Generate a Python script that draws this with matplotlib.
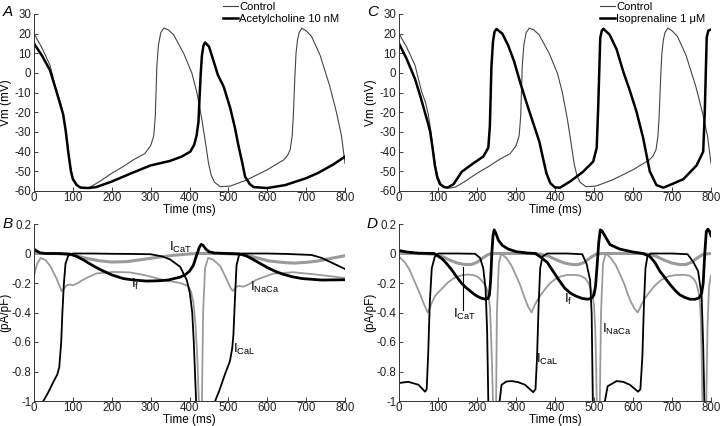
import matplotlib
matplotlib.use("Agg")
import matplotlib.pyplot as plt

plt.rcParams['font.family'] = ['Liberation Sans', 'DejaVu Sans']
plt.rcParams['axes.unicode_minus'] = False
plt.rcParams['mathtext.fontset'] = 'custom'
plt.rcParams['mathtext.rm'] = 'Liberation Sans'
plt.rcParams['mathtext.default'] = 'regular'

# ---- action potentials (mV) ----
ctl_t = [0, 20, 41, 58, 68, 75, 82, 88, 94, 100, 108, 118, 130, 145, 170, 200, 230, 257, 285, 300, 308,
         312, 316, 320, 326, 334, 345, 359, 385, 406, 419, 432, 440, 449, 456, 464, 479, 505, 547, 599,
         642, 652, 659, 664, 667, 671, 674, 678, 682, 689, 700, 714, 736, 761, 778, 791, 800]
ctl_v = [20, 13, 4, -9.5, -15, -21, -30, -40, -48, -53, -56.5, -58, -58.5, -58, -55, -51, -47.5, -44, -41,
         -37, -32, -22, 3.4, 14, 20.5, 22.8, 22, 19.5, 10, 0, -10, -23.8, -34, -46, -52, -55.5, -57.8,
         -57.5, -54.4, -49.3, -44.2, -42, -39, -32, -22, -2, 10, 17, 20.5, 22.8, 21.5, 18.6, 9, -6.8,
         -20, -32, -46]

ach_t = [0, 20, 41, 58, 75, 82, 88, 95, 100, 110, 120, 140, 160, 200, 250, 300, 350, 380, 402, 412, 418,
         423, 426, 429, 432, 436, 440, 450, 462, 473, 488, 505, 517, 526, 535, 543, 555, 565, 600, 646,
         700, 731, 770, 800]
ach_v = [15, 9, 1.5, -9.5, -21, -30, -40, -50, -54, -57, -58.3, -58.5, -58, -55.2, -51, -47, -44.7,
         -42.5, -40, -36.5, -32, -25, -12, 0, 9, 14, 15.5, 13.5, 6, -1, -7, -18, -28, -37, -45, -52.7,
         -56.5, -58, -58.5, -57, -53.5, -50.8, -46.5, -42.5]

iso_t = [0, 20, 41, 55, 65, 75, 80, 86, 92, 98, 105, 115, 125, 140, 161, 190, 216, 229, 233, 237, 241,
         245, 250, 265, 280, 295, 311, 330, 345, 360, 370, 378, 388, 400, 413, 440, 472, 498, 507, 511,
         516, 520, 524, 540, 558, 575, 592, 609, 626, 643, 660, 678, 700, 729, 763, 780, 784, 789, 793,
         798, 800]
iso_v = [15, 7, -3, -12, -19, -26, -30, -38, -47, -53, -56.5, -58, -58.3, -56.5, -50.2, -46, -42.5,
         -38, -27, 3.3, 16, 21, 22.4, 20, 14, 6, -5, -17, -26, -35, -44, -51, -56, -58.2, -58.3, -55,
         -50.2, -45, -38, -16, 17.8, 21.5, 22.5, 19.5, 12, 0.7, -9, -19.7, -33, -50, -57, -58.3, -56.5,
         -54, -47, -40, -20, 18, 21.5, 22, 22]

# ---- currents, acetylcholine (pA/pF) ----
if_b_t = [0, 8, 15, 30, 60, 95, 110, 128, 150, 171, 200, 230, 257, 290, 320, 345, 376, 388, 400, 410,
          416, 420, 425, 430, 435, 442, 450, 465, 500, 530, 545, 560, 580, 600, 620, 640, 665, 690,
          740, 800]
if_b_v = [0.03, 0.015, 0.005, 0, 0, -0.005, -0.02, -0.045, -0.08, -0.11, -0.145, -0.17, -0.18, -0.187,
          -0.185, -0.18, -0.16, -0.146, -0.12, -0.08, -0.03, 0.0, 0.04, 0.062, 0.055, 0.03, 0.012,
          0.003, 0.0, -0.003, -0.015, -0.035, -0.065, -0.095, -0.12, -0.14, -0.158, -0.17, -0.18,
          -0.178]

ical_b_t = [0, 20, 24, 35, 50, 60, 65, 70, 73, 77, 81, 88, 100, 150, 200, 250, 300, 330, 350, 376, 393,
            401, 407, 411, 414, 417, 420, 462, 466, 478, 491, 504, 510, 513, 517, 521, 527, 535, 600,
            650, 714, 740, 760, 780, 800]
ical_b_v = [-1.3, -1.1, -1.0, -0.95, -0.87, -0.82, -0.77, -0.6, -0.4, -0.2, -0.07, -0.015, 0, 0,
            -0.002, -0.003, -0.005, -0.02, -0.04, -0.09, -0.18, -0.27, -0.4, -0.6, -0.8, -1.0, -1.3,
            -1.3, -1.0, -0.92, -0.82, -0.73, -0.64, -0.55, -0.3, -0.08, -0.015, 0, 0, -0.003, -0.01,
            -0.03, -0.055, -0.08, -0.105]

inaca_b_t = [0, 8, 17, 30, 43, 58, 71, 78, 84, 92, 100, 110, 125, 140, 161, 204, 247, 290, 333, 376,
             397, 404, 410, 415, 420, 424, 426, 430, 432, 435, 440, 448, 460, 479, 496, 507, 512, 520,
             528, 538, 548, 573, 616, 667, 727, 800]
inaca_b_v = [-0.15, -0.07, -0.03, -0.045, -0.09, -0.17, -0.255, -0.235, -0.215, -0.21, -0.215, -0.205,
             -0.18, -0.16, -0.135, -0.125, -0.128, -0.15, -0.18, -0.2, -0.22, -0.26, -0.33, -0.47,
             -0.7, -1.0, -1.3, -1.3, -1.0, -0.4, -0.1, -0.03, -0.04, -0.085, -0.177, -0.24, -0.254,
             -0.225, -0.22, -0.225, -0.215, -0.177, -0.136, -0.127, -0.143, -0.166]

icat_b_t = [0, 50, 80, 100, 130, 170, 200, 240, 280, 320, 360, 400, 420, 440, 480, 530, 560, 603, 650,
            672, 700, 732, 770, 800]
icat_b_v = [0, 0, -0.002, -0.01, -0.03, -0.05, -0.058, -0.055, -0.04, -0.025, -0.012, -0.003, 0, 0, 0,
            -0.005, -0.02, -0.05, -0.063, -0.065, -0.06, -0.05, -0.03, -0.015]

# ---- currents, isoprenaline (pA/pF) ----
if_d_t = [0, 20, 50, 90, 96, 110, 121, 135, 147, 160, 173, 186, 198, 210, 222, 228, 232, 235, 238, 241,
          244, 248, 255, 265, 280, 301, 330, 350, 361, 380, 395, 410, 425, 440, 455, 470, 485, 495, 500,
          504, 508, 512, 516, 520, 528, 541, 566, 600, 626, 643, 656, 669, 682, 695, 708, 720, 733, 746,
          760, 770, 776, 780, 784, 788, 792, 796, 800]
if_d_v = [0.02, 0.01, 0.002, 0, -0.01, -0.035, -0.065, -0.11, -0.155, -0.2, -0.234, -0.262, -0.286,
          -0.302, -0.31, -0.305, -0.28, -0.18, 0.0, 0.12, 0.16, 0.14, 0.09, 0.055, 0.03, 0.012, 0.003,
          0.0, -0.02, -0.06, -0.12, -0.18, -0.235, -0.27, -0.29, -0.305, -0.31, -0.3, -0.28, -0.22,
          -0.08, 0.07, 0.16, 0.155, 0.12, 0.06, 0.03, 0.01, 0.0, -0.02, -0.06, -0.12, -0.165, -0.21,
          -0.25, -0.28, -0.298, -0.31, -0.31, -0.3, -0.27, -0.2, 0.0, 0.15, 0.165, 0.15, 0.12]

ical_d_t = [0, 24, 50, 67, 71, 75, 79, 84, 92, 101, 150, 195, 208, 216, 222, 226, 229, 232, 255, 258,
            263, 275, 289, 305, 323, 344, 350, 354, 358, 362, 368, 380, 430, 470, 481, 490, 494, 497,
            500, 525, 528, 535, 558, 575, 592, 613, 619, 624, 628, 632, 637, 645, 700, 740, 754, 767,
            776, 780, 783, 786, 800]
ical_d_v = [-0.878, -0.87, -0.89, -0.937, -0.92, -0.67, -0.33, -0.1, -0.02, 0, 0, -0.002, -0.03, -0.1,
            -0.24, -0.53, -1.0, -1.3, -1.3, -1.0, -0.89, -0.868, -0.865, -0.872, -0.89, -0.94, -0.92,
            -0.7, -0.35, -0.1, -0.02, 0, 0, -0.005, -0.07, -0.18, -0.41, -1.0, -1.3, -1.3, -1.0, -0.9,
            -0.865, -0.87, -0.89, -0.937, -0.92, -0.7, -0.35, -0.1, -0.02, 0, 0, -0.005, -0.055, -0.12,
            -0.29, -0.63, -1.0, -1.3, -1.3]

inaca_d_t = [0, 15, 27, 40, 53, 62, 70, 74, 79, 83, 92, 102, 113, 126, 139, 152, 164, 177, 190, 200,
             207, 214, 220, 225, 228, 231, 233, 235, 237, 239, 241, 243, 247, 249, 251, 256, 262, 275,
             288, 301, 310, 318, 325, 331, 340, 344, 348, 355, 361, 375, 388, 400, 415, 430, 450, 465,
             478, 486, 492, 496, 500, 503, 505, 507, 509, 513, 515, 518, 523, 530, 543, 556, 569, 578,
             586, 595, 603, 612, 617, 621, 629, 640, 655, 672, 690, 710, 730, 745, 755, 762, 767, 771,
             774, 776, 778, 780, 785, 788, 791, 795, 800]
inaca_d_v = [-0.02, -0.06, -0.11, -0.19, -0.27, -0.33, -0.38, -0.40, -0.37, -0.34, -0.29, -0.26, -0.23,
             -0.195, -0.17, -0.155, -0.146, -0.143, -0.146, -0.155, -0.17, -0.19, -0.21, -0.24, -0.27,
             -0.32, -0.36, -0.48, -0.63, -0.8, -1.0, -1.3, -1.3, -1.0, -0.4, -0.065, 0.0, -0.03, -0.08,
             -0.155, -0.21, -0.27, -0.32, -0.36, -0.40, -0.375, -0.35, -0.315, -0.29, -0.24, -0.2,
             -0.175, -0.155, -0.146, -0.145, -0.15, -0.17, -0.2, -0.24, -0.28, -0.35, -0.5, -0.7, -1.0,
             -1.3, -1.3, -1.0, -0.4, -0.07, 0.0, -0.03, -0.08, -0.155, -0.21, -0.27, -0.33, -0.37,
             -0.40, -0.375, -0.35, -0.31, -0.27, -0.22, -0.18, -0.155, -0.146, -0.145, -0.15, -0.17,
             -0.2, -0.25, -0.31, -0.45, -0.7, -1.0, -1.3, -1.3, -1.0, -0.5, -0.22, -0.15]

icat_d_t = [0, 60, 90, 110, 130, 150, 170, 185, 200, 215, 230, 245, 340, 365, 385, 405, 425, 445, 460,
            475, 490, 505, 520, 620, 640, 660, 680, 700, 720, 735, 750, 765, 780, 800]
icat_d_v = [0, 0, -0.005, -0.02, -0.045, -0.065, -0.075, -0.075, -0.06, -0.03, -0.005, 0, 0, -0.005,
            -0.02, -0.045, -0.065, -0.075, -0.075, -0.06, -0.03, -0.005, 0, 0, -0.005, -0.02, -0.045,
            -0.065, -0.075, -0.075, -0.06, -0.03, -0.005, 0]

time_ticks = [0, 100, 200, 300, 400, 500, 600, 700, 800]
vm_ticks = [30, 20, 10, 0, -10, -20, -30, -40, -50, -60]
cur_ticks = [0.2, 0, -0.2, -0.4, -0.6, -0.8, -1]
cur_labels = ['0.2', '0', '-0.2', '-0.4', '-0.6', '-0.8', '-1']

GRAY = '#9a9a9a'
FS = 8.3

fig = plt.figure(figsize=(7.2, 4.26), dpi=100)
axA = fig.add_axes([34 / 720, 1 - 191 / 426, 311 / 720, 177 / 426])
axC = fig.add_axes([399 / 720, 1 - 191 / 426, 312 / 720, 177 / 426])
axB = fig.add_axes([34 / 720, 1 - 401 / 426, 311 / 720, 177 / 426])
axD = fig.add_axes([399 / 720, 1 - 401 / 426, 312 / 720, 177 / 426])


def style(ax, yticks, ylabels, ylabel):
    ax.set_xlim(0, 800)
    ax.set_ylim(min(yticks), max(yticks))
    ax.set_xticks(time_ticks)
    ax.set_xticklabels([str(t) for t in time_ticks])
    ax.set_yticks(yticks)
    ax.set_yticklabels(ylabels)
    ax.spines['top'].set_visible(False)
    ax.spines['right'].set_visible(False)
    for s in ['left', 'bottom']:
        ax.spines[s].set_linewidth(0.7)
        ax.spines[s].set_color('#333333')
    ax.tick_params(direction='in', length=3, width=0.6, labelsize=FS, colors='#222222')
    ax.tick_params(axis='x', pad=1)
    ax.tick_params(axis='y', pad=2)
    ax.set_xlabel('Time (ms)', fontsize=8.5, labelpad=0)
    ax.set_ylabel(ylabel, fontsize=8.5)
    ax.yaxis.set_label_coords(-0.072, 0.5)


# panel A
axA.plot(ctl_t, ctl_v, color='#444444', lw=0.8, label='Control')
axA.plot(ach_t, ach_v, color='black', lw=1.8, label='Acetylcholine 10 nM')
style(axA, vm_ticks, [str(v) for v in vm_ticks], 'Vm (mV)')
axA.legend(loc='upper right', bbox_to_anchor=(1.0, 1.1), frameon=False, fontsize=8,
           handlelength=1.3, handletextpad=0.15, borderpad=0, labelspacing=0.15)

# panel C
axC.plot(ctl_t, ctl_v, color='#444444', lw=0.8, label='Control')
axC.plot(iso_t, iso_v, color='black', lw=1.8, label='Isoprenaline 1 μM')
style(axC, vm_ticks, [str(v) for v in vm_ticks], 'Vm (mV)')
axC.legend(loc='upper right', bbox_to_anchor=(1.0, 1.1), frameon=False, fontsize=8,
           handlelength=1.3, handletextpad=0.15, borderpad=0, labelspacing=0.15)

# panel B
axB.plot(icat_b_t, icat_b_v, color=GRAY, lw=2.2)
axB.plot(inaca_b_t, inaca_b_v, color=GRAY, lw=1.3)
axB.plot(ical_b_t, ical_b_v, color='black', lw=1.3)
axB.plot(if_b_t, if_b_v, color='black', lw=2.0)
style(axB, cur_ticks, cur_labels, '(pA/pF)')
lab = dict(fontsize=9.5, va='baseline', ha='left')
axB.text(346, 0.015, '$I_{CaT}$', **lab)
axB.text(250, -0.233, '$I_{f}$', **lab)
axB.text(556, -0.256, '$I_{NaCa}$', **lab)
axB.text(511, -0.674, '$I_{CaL}$', **lab)

# panel D
axD.plot(icat_d_t, icat_d_v, color=GRAY, lw=2.2)
axD.plot(inaca_d_t, inaca_d_v, color=GRAY, lw=1.3)
axD.plot(ical_d_t, ical_d_v, color='black', lw=1.3)
axD.plot(if_d_t, if_d_v, color='black', lw=2.0)
style(axD, cur_ticks, cur_labels, '(pA/pF)')
axD.plot([163, 163], [-0.09, -0.38], color='black', lw=0.8)
axD.text(139, -0.438, '$I_{CaT}$', **lab)
axD.text(423, -0.336, '$I_{f}$', **lab)
axD.text(521, -0.54, '$I_{NaCa}$', **lab)
axD.text(352, -0.743, '$I_{CaL}$', **lab)

# panel letters
fig.text(3 / 720, 1 - 16 / 426, 'A', fontsize=11, style='italic')
fig.text(3 / 720, 1 - 228 / 426, 'B', fontsize=11, style='italic')
fig.text(367 / 720, 1 - 16 / 426, 'C', fontsize=11, style='italic')
fig.text(367 / 720, 1 - 228 / 426, 'D', fontsize=11, style='italic')

fig.savefig('out.png', dpi=100)
